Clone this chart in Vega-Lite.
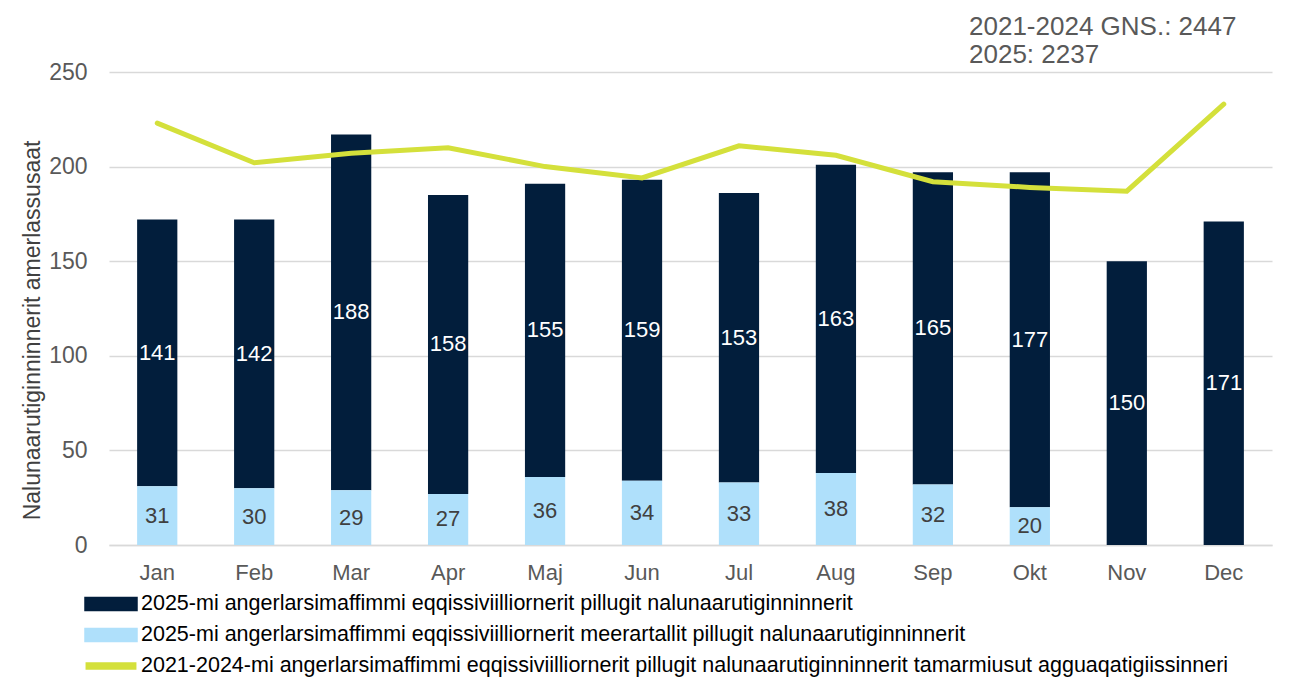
{
  "$schema": "https://vega.github.io/schema/vega-lite/v6.json",
  "autosize": "none",
  "width": 1163,
  "height": 473,
  "padding": {"left": 109, "top": 72, "right": 21, "bottom": 137},
  "background": "white",
  "config": {
    "font": "Liberation Sans",
    "view": {"stroke": null}
  },
  "title": {
    "text": ["2021-2024 GNS.: 2447", "2025: 2237"],
    "anchor": "end",
    "frame": "group",
    "align": "left",
    "dx": -303,
    "dy": 13,
    "fontSize": 26,
    "fontWeight": "normal",
    "color": "#595959",
    "lineHeight": 28,
    "offset": 6
  },
  "datasets": {
    "bars": [
      {"m": "Jan", "s": "2025-mi angerlarsimaffimmi eqqissiviilliornerit pillugit nalunaarutiginninnerit", "v": 141, "o": 2},
      {"m": "Jan", "s": "2025-mi angerlarsimaffimmi eqqissiviilliornerit meerartallit pillugit nalunaarutiginninnerit", "v": 31, "o": 1},
      {"m": "Feb", "s": "2025-mi angerlarsimaffimmi eqqissiviilliornerit pillugit nalunaarutiginninnerit", "v": 142, "o": 2},
      {"m": "Feb", "s": "2025-mi angerlarsimaffimmi eqqissiviilliornerit meerartallit pillugit nalunaarutiginninnerit", "v": 30, "o": 1},
      {"m": "Mar", "s": "2025-mi angerlarsimaffimmi eqqissiviilliornerit pillugit nalunaarutiginninnerit", "v": 188, "o": 2},
      {"m": "Mar", "s": "2025-mi angerlarsimaffimmi eqqissiviilliornerit meerartallit pillugit nalunaarutiginninnerit", "v": 29, "o": 1},
      {"m": "Apr", "s": "2025-mi angerlarsimaffimmi eqqissiviilliornerit pillugit nalunaarutiginninnerit", "v": 158, "o": 2},
      {"m": "Apr", "s": "2025-mi angerlarsimaffimmi eqqissiviilliornerit meerartallit pillugit nalunaarutiginninnerit", "v": 27, "o": 1},
      {"m": "Maj", "s": "2025-mi angerlarsimaffimmi eqqissiviilliornerit pillugit nalunaarutiginninnerit", "v": 155, "o": 2},
      {"m": "Maj", "s": "2025-mi angerlarsimaffimmi eqqissiviilliornerit meerartallit pillugit nalunaarutiginninnerit", "v": 36, "o": 1},
      {"m": "Jun", "s": "2025-mi angerlarsimaffimmi eqqissiviilliornerit pillugit nalunaarutiginninnerit", "v": 159, "o": 2},
      {"m": "Jun", "s": "2025-mi angerlarsimaffimmi eqqissiviilliornerit meerartallit pillugit nalunaarutiginninnerit", "v": 34, "o": 1},
      {"m": "Jul", "s": "2025-mi angerlarsimaffimmi eqqissiviilliornerit pillugit nalunaarutiginninnerit", "v": 153, "o": 2},
      {"m": "Jul", "s": "2025-mi angerlarsimaffimmi eqqissiviilliornerit meerartallit pillugit nalunaarutiginninnerit", "v": 33, "o": 1},
      {"m": "Aug", "s": "2025-mi angerlarsimaffimmi eqqissiviilliornerit pillugit nalunaarutiginninnerit", "v": 163, "o": 2},
      {"m": "Aug", "s": "2025-mi angerlarsimaffimmi eqqissiviilliornerit meerartallit pillugit nalunaarutiginninnerit", "v": 38, "o": 1},
      {"m": "Sep", "s": "2025-mi angerlarsimaffimmi eqqissiviilliornerit pillugit nalunaarutiginninnerit", "v": 165, "o": 2},
      {"m": "Sep", "s": "2025-mi angerlarsimaffimmi eqqissiviilliornerit meerartallit pillugit nalunaarutiginninnerit", "v": 32, "o": 1},
      {"m": "Okt", "s": "2025-mi angerlarsimaffimmi eqqissiviilliornerit pillugit nalunaarutiginninnerit", "v": 177, "o": 2},
      {"m": "Okt", "s": "2025-mi angerlarsimaffimmi eqqissiviilliornerit meerartallit pillugit nalunaarutiginninnerit", "v": 20, "o": 1},
      {"m": "Nov", "s": "2025-mi angerlarsimaffimmi eqqissiviilliornerit pillugit nalunaarutiginninnerit", "v": 150, "o": 2},
      {"m": "Dec", "s": "2025-mi angerlarsimaffimmi eqqissiviilliornerit pillugit nalunaarutiginninnerit", "v": 171, "o": 2}
    ],
    "line": [
      {"m": "Jan", "s": "2021-2024-mi angerlarsimaffimmi eqqissiviilliornerit pillugit nalunaarutiginninnerit tamarmiusut agguaqatigiissinneri", "v": 223},
      {"m": "Feb", "s": "2021-2024-mi angerlarsimaffimmi eqqissiviilliornerit pillugit nalunaarutiginninnerit tamarmiusut agguaqatigiissinneri", "v": 202},
      {"m": "Mar", "s": "2021-2024-mi angerlarsimaffimmi eqqissiviilliornerit pillugit nalunaarutiginninnerit tamarmiusut agguaqatigiissinneri", "v": 207},
      {"m": "Apr", "s": "2021-2024-mi angerlarsimaffimmi eqqissiviilliornerit pillugit nalunaarutiginninnerit tamarmiusut agguaqatigiissinneri", "v": 210},
      {"m": "Maj", "s": "2021-2024-mi angerlarsimaffimmi eqqissiviilliornerit pillugit nalunaarutiginninnerit tamarmiusut agguaqatigiissinneri", "v": 200},
      {"m": "Jun", "s": "2021-2024-mi angerlarsimaffimmi eqqissiviilliornerit pillugit nalunaarutiginninnerit tamarmiusut agguaqatigiissinneri", "v": 194},
      {"m": "Jul", "s": "2021-2024-mi angerlarsimaffimmi eqqissiviilliornerit pillugit nalunaarutiginninnerit tamarmiusut agguaqatigiissinneri", "v": 211},
      {"m": "Aug", "s": "2021-2024-mi angerlarsimaffimmi eqqissiviilliornerit pillugit nalunaarutiginninnerit tamarmiusut agguaqatigiissinneri", "v": 206},
      {"m": "Sep", "s": "2021-2024-mi angerlarsimaffimmi eqqissiviilliornerit pillugit nalunaarutiginninnerit tamarmiusut agguaqatigiissinneri", "v": 192},
      {"m": "Okt", "s": "2021-2024-mi angerlarsimaffimmi eqqissiviilliornerit pillugit nalunaarutiginninnerit tamarmiusut agguaqatigiissinneri", "v": 189},
      {"m": "Nov", "s": "2021-2024-mi angerlarsimaffimmi eqqissiviilliornerit pillugit nalunaarutiginninnerit tamarmiusut agguaqatigiissinneri", "v": 187},
      {"m": "Dec", "s": "2021-2024-mi angerlarsimaffimmi eqqissiviilliornerit pillugit nalunaarutiginninnerit tamarmiusut agguaqatigiissinneri", "v": 233}
    ]
  },
  "layer": [
    {
      "data": {"name": "bars"},
      "mark": {"type": "bar"},
      "encoding": {
        "x": {
          "field": "m",
          "type": "nominal",
          "sort": ["Jan", "Feb", "Mar", "Apr", "Maj", "Jun", "Jul", "Aug", "Sep", "Okt", "Nov", "Dec"],
          "scale": {"paddingInner": 0.585, "paddingOuter": 0.29},
          "axis": {
            "title": null,
            "labelAngle": 0,
            "labelFontSize": 22,
            "labelColor": "#595959",
            "labelPadding": 17,
            "ticks": false,
            "domain": true,
            "domainColor": "#d9d9d9",
            "domainWidth": 1.5
          }
        },
        "y": {
          "field": "v",
          "type": "quantitative",
          "stack": "zero",
          "scale": {"domain": [0, 250], "nice": false},
          "axis": {
            "title": "Nalunaarutiginninnerit amerlassusaat",
            "titleFontSize": 23,
            "titleFontWeight": "normal",
            "titleColor": "#404040",
            "titleX": -77,
            "titleY": 258,
            "titleBaseline": "middle",
            "titleAlign": "center",
            "titleAngle": 270,
            "values": [0, 50, 100, 150, 200, 250],
            "labelFontSize": 23,
            "labelColor": "#595959",
            "labelPadding": 22,
            "ticks": false,
            "domain": false,
            "grid": true,
            "gridColor": "#d9d9d9",
            "gridWidth": 1.5
          }
        },
        "order": {"field": "o", "type": "quantitative"},
        "color": {
          "field": "s",
          "type": "nominal",
          "scale": {
            "domain": [
              "2025-mi angerlarsimaffimmi eqqissiviilliornerit pillugit nalunaarutiginninnerit",
              "2025-mi angerlarsimaffimmi eqqissiviilliornerit meerartallit pillugit nalunaarutiginninnerit",
              "2021-2024-mi angerlarsimaffimmi eqqissiviilliornerit pillugit nalunaarutiginninnerit tamarmiusut agguaqatigiissinneri"
            ],
            "range": ["#021e3c", "#afe0fb", "#d4e03b"]
          },
          "legend": {
            "title": null,
            "orient": "none",
            "legendX": -25,
            "legendY": 518,
            "direction": "vertical",
            "labelFontSize": 21.5,
            "labelColor": "#000000",
            "labelLimit": 1200,
            "labelOffset": 29,
            "symbolSize": 676,
            "symbolType": "M-1,-0.5H3V0.5H-1Z",
            "rowPadding": 6,
            "encode": {
              "symbols": {
                "update": {
                  "shape": {"signal": "indexof(datum.label, 'tamarmiusut') >= 0 ? 'M-0.9,-0.23H2.9V0.23H-0.9Z' : 'M-1,-0.5H3V0.5H-1Z'"}
                }
              }
            }
          }
        }
      }
    },
    {
      "data": {"name": "bars"},
      "transform": [
        {"stack": "v", "groupby": ["m"], "sort": [{"field": "o"}], "as": ["v0", "v1"]},
        {"calculate": "(datum.v0 + datum.v1) / 2", "as": "mid"}
      ],
      "mark": {"type": "text", "fontSize": 22, "baseline": "middle"},
      "encoding": {
        "x": {"field": "m", "type": "nominal", "sort": ["Jan", "Feb", "Mar", "Apr", "Maj", "Jun", "Jul", "Aug", "Sep", "Okt", "Nov", "Dec"]},
        "y": {"field": "mid", "type": "quantitative"},
        "text": {"field": "v", "type": "quantitative"},
        "color": {
          "condition": {"test": "datum.o == 2", "value": "#ffffff"},
          "value": "#404040"
        }
      }
    },
    {
      "data": {"name": "line"},
      "mark": {"type": "line", "strokeWidth": 5, "strokeCap": "round"},
      "encoding": {
        "x": {"field": "m", "type": "nominal", "sort": ["Jan", "Feb", "Mar", "Apr", "Maj", "Jun", "Jul", "Aug", "Sep", "Okt", "Nov", "Dec"]},
        "y": {"field": "v", "type": "quantitative"},
        "color": {"field": "s", "type": "nominal"}
      }
    }
  ]
}
